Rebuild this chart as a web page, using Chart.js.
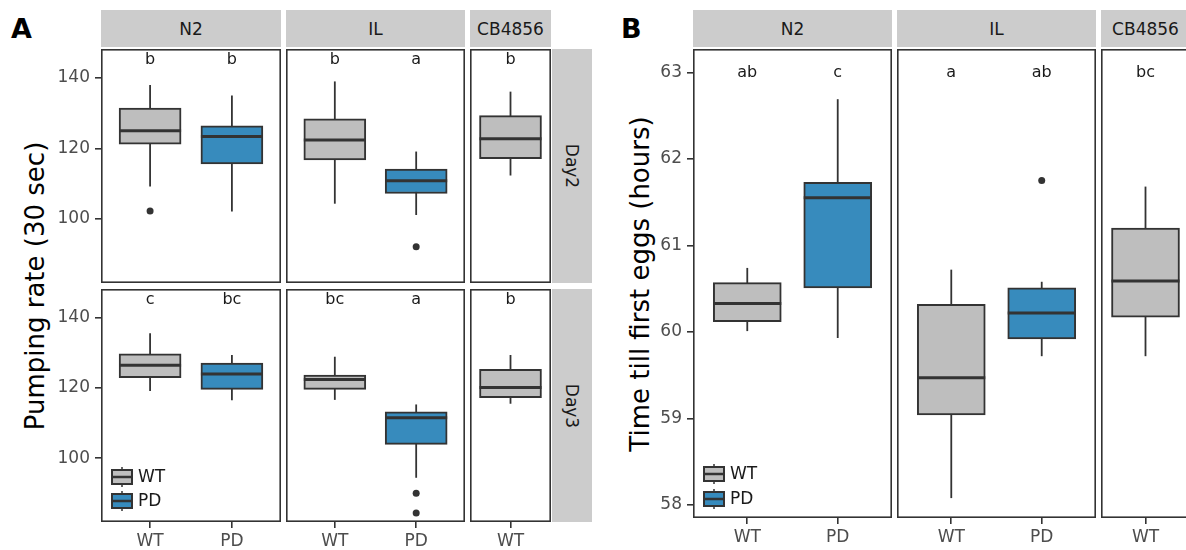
<!DOCTYPE html>
<html lang="en">
<head>
    <meta charset="UTF-8">
    <title>Pumping rate and time till first eggs</title>
    <style>
        body {
            margin: 0;
            background: #ffffff;
            font-family: "DejaVu Sans", "Liberation Sans", Arial, sans-serif;
        }

        #figure {
            position: relative;
            width: 1186px;
            height: 550px;
            overflow: hidden;
            background: #ffffff;
        }

        canvas {
            position: absolute;
        }

        .strip {
            position: absolute;
            background: #cccccc;
            color: #1a1a1a;
            font-size: 17px;
            display: flex;
            align-items: center;
            justify-content: center;
            white-space: nowrap;
            overflow: hidden;
        }

        .strip.side span {
            transform: rotate(90deg);
        }

        .tag {
            position: absolute;
            font-weight: bold;
            font-size: 27px;
            color: #000000;
        }

        .ytitle {
            position: absolute;
            width: 500px;
            height: 30px;
            line-height: 30px;
            font-size: 26px;
            text-align: center;
            color: #000000;
            transform: rotate(-90deg);
            white-space: nowrap;
        }
    </style>
    <script src="https://cdn.jsdelivr.net/npm/chart.js@4.4.0/dist/chart.umd.min.js"></script>
</head>
<body>
<div id="figure">
    <div class="tag" style="left: 11px; top: 13px;">A</div>
    <div class="tag" style="left: 621px; top: 13px;">B</div>
    <div class="ytitle" style="left: -215px; top: 271px;">Pumping rate (30 sec)</div>
    <div class="ytitle" style="left: 390px; top: 269px;">Time till first eggs (hours)</div>
</div>
<script>
    // strains and genotypes shown in each facet column
    const strains = ['N2', 'IL', 'CB4856'];
    const strainGenotypes = [['WT', 'PD'], ['WT', 'PD'], ['WT']];
    const days = ['Day2', 'Day3'];
    const legendLabels = ['WT', 'PD'];

    // group order everywhere: N2 WT, N2 PD, IL WT, IL PD, CB4856 WT
    const groupGenotype = ['WT', 'PD', 'WT', 'PD', 'WT'];

    // panel A, day 2 (pumping rate per 30 sec)
    const day2Low = [109.2, 102.1, 104.3, 101.1, 112.3];
    const day2Q1 = [121.2, 115.6, 116.7, 107.2, 117.1];
    const day2Median = [125.0, 123.4, 122.4, 110.8, 122.7];
    const day2Q3 = [131.4, 126.4, 128.4, 114.1, 129.3];
    const day2High = [138.0, 135.0, 139.0, 119.1, 136.1];
    const day2Outliers = [[102.2], [], [], [92.1], []];
    const day2Letters = ['b', 'b', 'b', 'a', 'b'];

    // panel A, day 3
    const day3Low = [119.1, 116.5, 116.6, 94.4, 115.5];
    const day3Q1 = [122.9, 119.6, 119.6, 103.9, 117.2];
    const day3Median = [126.5, 124.0, 122.4, 111.5, 120.1];
    const day3Q3 = [129.7, 127.1, 123.7, 113.2, 125.3];
    const day3High = [135.6, 129.4, 128.9, 115.3, 129.4];
    const day3Outliers = [[], [], [], [90.0, 84.4], []];
    const day3Letters = ['c', 'bc', 'bc', 'a', 'b'];

    // panel B, time till first eggs (hours)
    const eggLow = [60.01, 59.93, 58.08, 59.72, 59.72];
    const eggQ1 = [60.12, 60.51, 59.04, 59.92, 60.17];
    const eggMedian = [60.33, 61.55, 59.47, 60.22, 60.59];
    const eggQ3 = [60.57, 61.73, 60.32, 60.51, 61.20];
    const eggHigh = [60.74, 62.69, 60.72, 60.58, 61.68];
    const eggOutliers = [[], [], [], [61.75], []];
    const eggLetters = ['ab', 'c', 'a', 'ab', 'bc'];

    const pumpTicks = [100, 120, 140];
    const eggTicks = [58, 59, 60, 61, 62, 63];

    const fillColors = { WT: '#bebebe', PD: '#378bbd' };
    const ink = '#333333';
    const fontFamily = '"DejaVu Sans", "Liberation Sans", Arial, sans-serif';
    const figure = document.getElementById('figure');

    function addStrip(text, left, top, width, height, side) {
        const div = document.createElement('div');
        div.className = side ? 'strip side' : 'strip';
        div.style.left = left + 'px';
        div.style.top = top + 'px';
        div.style.width = width + 'px';
        div.style.height = height + 'px';
        const span = document.createElement('span');
        span.textContent = text;
        div.appendChild(span);
        figure.appendChild(div);
    }

    function boxPlugin(cfg) {
        return {
            id: 'boxExtras',
            beforeDatasetsDraw(chart) {
                // whiskers go under the boxes
                const { ctx, scales: { x, y } } = chart;
                ctx.save();
                ctx.strokeStyle = ink;
                ctx.lineWidth = 1.8;
                cfg.groups.forEach((g, i) => {
                    const px = x.getPixelForValue(i + 1);
                    ctx.beginPath();
                    ctx.moveTo(px, y.getPixelForValue(cfg.high[g]));
                    ctx.lineTo(px, y.getPixelForValue(cfg.low[g]));
                    ctx.stroke();
                });
                ctx.restore();
            },
            afterDatasetsDraw(chart) {
                const { ctx, scales: { x, y } } = chart;
                ctx.save();
                cfg.groups.forEach((g, i) => {
                    const px = x.getPixelForValue(i + 1);
                    // median
                    ctx.strokeStyle = ink;
                    ctx.lineWidth = 3;
                    ctx.beginPath();
                    const py = y.getPixelForValue(cfg.median[g]);
                    ctx.moveTo(px - cfg.boxWidth / 2, py);
                    ctx.lineTo(px + cfg.boxWidth / 2, py);
                    ctx.stroke();
                    // outliers
                    ctx.fillStyle = ink;
                    cfg.outliers[g].forEach(v => {
                        ctx.beginPath();
                        ctx.arc(px, y.getPixelForValue(v), 3.5, 0, Math.PI * 2);
                        ctx.fill();
                    });
                });
                ctx.restore();
            },
            afterDraw(chart) {
                const { ctx, chartArea: a, scales: { x, y } } = chart;
                ctx.save();
                // panel border
                ctx.strokeStyle = ink;
                ctx.lineWidth = 1.6;
                ctx.strokeRect(a.left + 0.8, a.top + 0.8, a.right - a.left - 1.6, a.bottom - a.top - 1.6);
                // significance letters
                ctx.fillStyle = '#1a1a1a';
                ctx.font = '16px ' + fontFamily;
                ctx.textAlign = 'center';
                ctx.textBaseline = 'middle';
                cfg.groups.forEach((g, i) => {
                    ctx.fillText(cfg.letters[g], x.getPixelForValue(i + 1), y.getPixelForValue(cfg.letterY));
                });
                // legend
                if (cfg.legend) {
                    legendLabels.forEach((lab, i) => {
                        const cx = a.left + 21;
                        const cy = a.bottom - cfg.legend[i];
                        ctx.strokeStyle = ink;
                        ctx.lineWidth = 1.5;
                        ctx.beginPath();
                        ctx.moveTo(cx, cy - 10);
                        ctx.lineTo(cx, cy + 10);
                        ctx.stroke();
                        ctx.fillStyle = fillColors[lab];
                        ctx.fillRect(cx - 10, cy - 7, 20, 14);
                        ctx.lineWidth = 2;
                        ctx.strokeRect(cx - 10, cy - 7, 20, 14);
                        ctx.lineWidth = 2.5;
                        ctx.beginPath();
                        ctx.moveTo(cx - 10, cy);
                        ctx.lineTo(cx + 10, cy);
                        ctx.stroke();
                        ctx.fillStyle = '#1a1a1a';
                        ctx.font = '17px ' + fontFamily;
                        ctx.textAlign = 'left';
                        ctx.fillText(lab, cx + 16, cy + 1);
                    });
                }
                ctx.restore();
            }
        };
    }

    function makeFacet(cfg) {
        const yAxisWidth = cfg.showY ? 56 : 0;
        const xAxisHeight = cfg.showX ? 30 : 0;
        const canvas = document.createElement('canvas');
        const left = cfg.panel.left - yAxisWidth;
        const width = cfg.panel.width + yAxisWidth;
        const height = cfg.panel.height + xAxisHeight;
        canvas.width = width;
        canvas.height = height;
        canvas.style.left = left + 'px';
        canvas.style.top = cfg.panel.top + 'px';
        figure.appendChild(canvas);

        const tickGrid = {
            display: true,
            drawOnChartArea: false,
            drawTicks: true,
            tickLength: 6,
            color: ink,
            lineWidth: 1.6,
            offset: false
        };

        new Chart(canvas.getContext('2d'), {
            type: 'bar',
            data: {
                datasets: [{
                    data: cfg.groups.map((g, i) => ({ x: i + 1, y: [cfg.q1[g], cfg.q3[g]] })),
                    backgroundColor: cfg.groups.map(g => fillColors[groupGenotype[g]]),
                    borderColor: ink,
                    borderWidth: 2,
                    borderSkipped: false,
                    barThickness: cfg.boxWidth
                }]
            },
            options: {
                responsive: false,
                animation: false,
                devicePixelRatio: 1,
                layout: { padding: 0 },
                plugins: {
                    legend: { display: false },
                    tooltip: { enabled: false }
                },
                scales: {
                    x: {
                        type: 'linear',
                        min: 0.4,
                        max: cfg.cats.length + 0.6,
                        offset: false,
                        display: cfg.showX,
                        grid: tickGrid,
                        border: { display: false },
                        ticks: {
                            color: '#4d4d4d',
                            font: { family: fontFamily, size: 17 },
                            padding: 3,
                            maxRotation: 0,
                            autoSkip: false,
                            callback: v => cfg.cats[v - 1]
                        },
                        afterBuildTicks: s => { s.ticks = cfg.cats.map((c, i) => ({ value: i + 1 })); },
                        afterFit: s => { s.height = xAxisHeight; s.paddingLeft = 0; s.paddingRight = 0; }
                    },
                    y: {
                        min: cfg.yMin,
                        max: cfg.yMax,
                        display: cfg.showY,
                        grid: tickGrid,
                        border: { display: false },
                        ticks: {
                            color: '#4d4d4d',
                            font: { family: fontFamily, size: 17 },
                            padding: 5
                        },
                        afterBuildTicks: s => { s.ticks = cfg.yTicks.map(v => ({ value: v })); },
                        afterFit: s => { s.width = yAxisWidth; s.paddingTop = 0; s.paddingBottom = 0; }
                    }
                }
            },
            plugins: [boxPlugin(cfg)]
        });
    }

    // ---- panel layout ----
    const colsA = [{ left: 101, width: 180 }, { left: 286, width: 179 }, { left: 470, width: 81 }];
    const rowsA = [{ top: 49, height: 234 }, { top: 289, height: 233 }];
    const colsB = [{ left: 693, width: 199 }, { left: 897, width: 199 }, { left: 1101, width: 89 }];
    const rowB = { top: 49, height: 469 };
    const groupsByStrain = [[0, 1], [2, 3], [4]];

    strains.forEach((s, c) => {
        addStrip(s, colsA[c].left, 10, colsA[c].width, 37, false);
        addStrip(s, colsB[c].left, 10, colsB[c].width, 37, false);
    });
    days.forEach((d, r) => addStrip(d, 552, rowsA[r].top, 40, rowsA[r].height, true));

    const dayStats = [
        { low: day2Low, q1: day2Q1, median: day2Median, q3: day2Q3, high: day2High, outliers: day2Outliers, letters: day2Letters },
        { low: day3Low, q1: day3Q1, median: day3Median, q3: day3Q3, high: day3High, outliers: day3Outliers, letters: day3Letters }
    ];

    dayStats.forEach((st, r) => {
        strains.forEach((s, c) => {
            makeFacet(Object.assign({}, st, {
                panel: { left: colsA[c].left, width: colsA[c].width, top: rowsA[r].top, height: rowsA[r].height },
                cats: strainGenotypes[c],
                groups: groupsByStrain[c],
                yMin: 81.8,
                yMax: 148.2,
                yTicks: pumpTicks,
                letterY: 145,
                boxWidth: 62,
                showY: c === 0,
                showX: r === 1,
                legend: (c === 0 && r === 1) ? [45, 21] : null
            }));
        });
    });

    strains.forEach((s, c) => {
        makeFacet({
            panel: { left: colsB[c].left, width: colsB[c].width, top: rowB.top, height: rowB.height },
            cats: strainGenotypes[c],
            groups: groupsByStrain[c],
            low: eggLow, q1: eggQ1, median: eggMedian, q3: eggQ3, high: eggHigh,
            outliers: eggOutliers, letters: eggLetters,
            yMin: 57.85,
            yMax: 63.27,
            yTicks: eggTicks,
            letterY: 63,
            boxWidth: 68,
            showY: c === 0,
            showX: true,
            legend: c === 0 ? [44, 19] : null
        });
    });
</script>
</body>
</html>
